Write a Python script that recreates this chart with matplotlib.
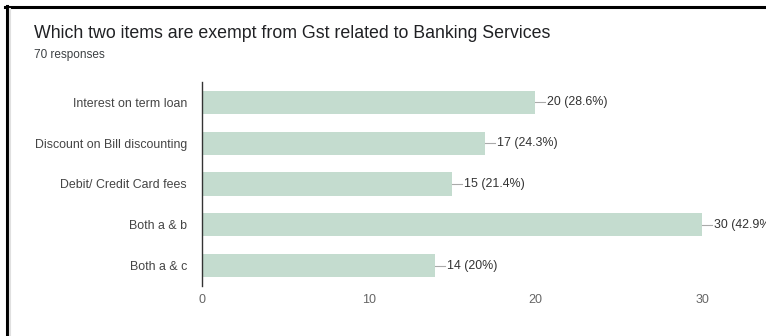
import matplotlib.pyplot as plt
from matplotlib.lines import Line2D

plt.rcParams['font.family'] = ['Liberation Sans', 'DejaVu Sans']

title = 'Which two items are exempt from Gst related to Banking Services'
subtitle = '70 responses'
options = ['Interest on term loan', 'Discount on Bill discounting',
           'Debit/ Credit Card fees', 'Both a & b', 'Both a & c']
counts = [20, 17, 15, 30, 14]
percents = ['28.6%', '24.3%', '21.4%', '42.9%', '20%']
xticks = [0, 10, 20, 30]

fig = plt.figure(figsize=(7.66, 3.36), dpi=100)
fig.patch.set_facecolor('white')

# black frame on top/left, with a faint grey edge inside
fig.add_artist(Line2D([6.5 / 766, 6.5 / 766], [0, 1 - 6 / 336], color='black', lw=2.2))
fig.add_artist(Line2D([5 / 766, 1], [1 - 7 / 336, 1 - 7 / 336], color='black', lw=2.2))
fig.add_artist(Line2D([10 / 766, 10 / 766], [0, 1 - 9 / 336], color='#e0e0e0', lw=1.5))

fig.text(34 / 766, 1 - 38 / 336, title, fontsize=12.8, color='#202124')
fig.text(34 / 766, 1 - 58 / 336, subtitle, fontsize=8.5, color='#3c4043')

ax = fig.add_axes([202 / 766, 1 - 286 / 336, 564 / 766, 204 / 336])
y = list(range(len(options)))
ax.barh(y, counts, height=0.57, color='#c4dccf')
ax.set_xlim(0, 564 / (500 / 30))
ax.set_ylim(len(options) - 0.5, -0.5)
ax.set_yticks(y)
ax.set_yticklabels(options, fontsize=8.9, color='#444444')
ax.set_xticks(xticks)
ax.set_xticklabels([str(t) for t in xticks], fontsize=9, color='#666666')
ax.tick_params(axis='y', length=0, pad=10.8)
ax.tick_params(axis='x', length=0, pad=6)
for s in ['top', 'right', 'bottom']:
    ax.spines[s].set_visible(False)
ax.spines['left'].set_color('#333333')
ax.spines['left'].set_linewidth(1)

for i, (c, p) in enumerate(zip(counts, percents)):
    ax.plot([c, c + 0.6], [i, i], color='#aaaaaa', lw=0.8, clip_on=False)
    ax.text(c + 0.7, i, f'{c} ({p})', va='center', ha='left',
            fontsize=8.9, color='#333333', clip_on=False)

fig.savefig('out.png', dpi=100)
